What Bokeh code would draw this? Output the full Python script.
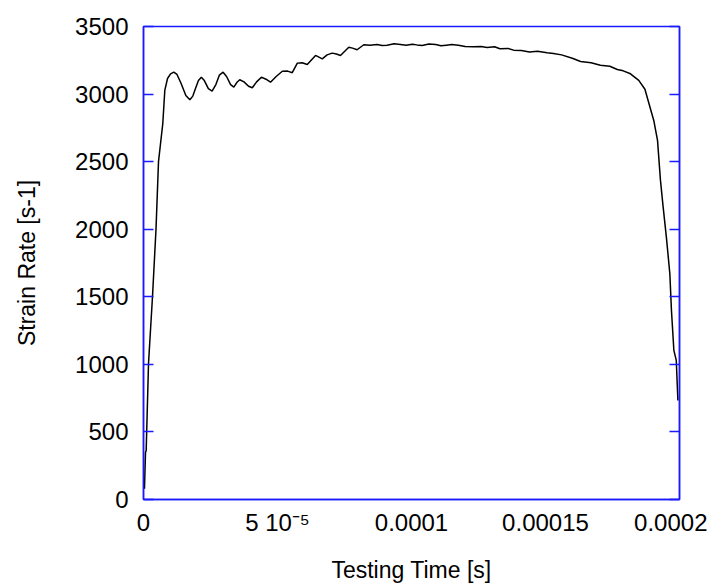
from bokeh.plotting import figure
from bokeh.models import Range1d, FixedTicker, LinearAxis, CustomJSTickFormatter
from bokeh.embed import file_html
from bokeh.resources import INLINE

# Data
time_s = [3.7e-7, 7.5e-7, 1.0e-6, 1.87e-6, 3.36e-6, 4.66e-6, 5.6e-6, 7.2e-6, 7.95e-6,
          8.96e-6, 1.01e-5, 1.13e-5, 1.25e-5, 1.40e-5, 1.58e-5, 1.73e-5, 1.84e-5,
          1.94e-5, 2.05e-5, 2.16e-5, 2.27e-5, 2.42e-5, 2.56e-5, 2.70e-5, 2.83e-5,
          2.97e-5, 3.10e-5, 3.25e-5, 3.37e-5, 3.48e-5, 3.59e-5, 3.75e-5, 3.92e-5,
          4.06e-5, 4.22e-5, 4.40e-5, 4.57e-5, 4.74e-5, 4.95e-5, 5.18e-5, 5.38e-5,
          5.55e-5, 5.74e-5, 5.92e-5, 6.11e-5, 6.42e-5, 6.67e-5, 6.85e-5, 7.04e-5,
          7.2e-5, 7.35e-5, 7.66e-5, 7.80e-5, 7.97e-5, 8.22e-5, 8.45e-5, 8.72e-5,
          8.9e-5, 9.09e-5, 9.35e-5, 9.59e-5, 9.8e-5, 1.003e-4, 1.02e-4, 1.04e-4,
          1.065e-4, 1.09e-4, 1.11e-4, 1.13e-4, 1.15e-4, 1.175e-4, 1.20e-4, 1.23e-4,
          1.26e-4, 1.282e-4, 1.31e-4, 1.33e-4, 1.36e-4, 1.381e-4, 1.41e-4, 1.44e-4,
          1.47e-4, 1.506e-4, 1.53e-4, 1.56e-4, 1.60e-4, 1.631e-4, 1.67e-4, 1.705e-4,
          1.74e-4, 1.768e-4, 1.79e-4, 1.817e-4, 1.848e-4,
          1.871e-4, 1.886e-4, 1.904e-4, 1.918e-4, 1.929e-4, 1.939e-4, 1.951e-4,
          1.964e-4, 1.970e-4, 1.979e-4, 1.988e-4, 1.994e-4]
strain_rate = [80, 348, 363, 1006, 1502, 1998, 2500, 2782, 3027,
               3115, 3150, 3162, 3145, 3080, 2990, 2958, 2985,
               3041, 3100, 3125, 3100, 3040, 3021, 3070, 3140,
               3162, 3130, 3070, 3051, 3085, 3106, 3090, 3058,
               3047, 3090, 3125, 3110, 3088, 3130, 3169, 3170,
               3158, 3229, 3232, 3219, 3286, 3261, 3290, 3303,
               3296, 3286, 3347, 3340, 3328, 3365, 3362, 3367,
               3360, 3362, 3372, 3367, 3361, 3369, 3364, 3360,
               3370, 3366, 3358, 3362, 3366, 3362, 3352, 3350,
               3352, 3345, 3350, 3335, 3338, 3325, 3322, 3312,
               3316, 3306, 3300, 3290, 3265, 3241, 3232, 3214,
               3206, 3182, 3172, 3150, 3101,
               3036, 2930, 2805, 2657, 2361, 2163, 1941,
               1670, 1399, 1103, 1029, 733]

x_ticks = [0, 5e-5, 1e-4, 1.5e-4, 2e-4]
x_tick_labels = ["0", "5 10\u207b\u2075", "0.0001", "0.00015", "0.0002"]
y_ticks = [0, 500, 1000, 1500, 2000, 2500, 3000, 3500]

BLUE = "#1a1aff"
FONT = "Liberation Sans"
TICK_FS = "24px"
LABEL_FS = "23px"

p = figure(frame_width=536, frame_height=473, output_backend="svg", toolbar_location=None,
           x_range=Range1d(0, 0.0002), y_range=Range1d(0, 3500),
           min_border_left=143, min_border_right=28, min_border_top=26, min_border_bottom=20)
p.grid.visible = False
p.background_fill_color = "white"
p.outline_line_color = BLUE
p.outline_line_width = 1.5

p.line(time_s, strain_rate, line_color="black", line_width=1.5)

xa = p.xaxis[0]
xa.ticker = FixedTicker(ticks=x_ticks)
xa.major_label_overrides = {t: l for t, l in zip(x_ticks, x_tick_labels)}
xa.axis_label = "Testing Time [s]"
xa.major_tick_in = 0
xa.major_tick_out = 0
xa.minor_tick_in = 0
xa.minor_tick_out = 0
xa.major_label_standoff = 9

ya = p.yaxis[0]
ya.ticker = FixedTicker(ticks=y_ticks)
ya.axis_label = "Strain Rate [s-1]"
ya.major_tick_in = 10
ya.major_tick_out = 0
ya.minor_tick_in = 0
ya.minor_tick_out = 0
ya.major_label_standoff = 15

ra = LinearAxis(ticker=FixedTicker(ticks=y_ticks),
                formatter=CustomJSTickFormatter(code="return ''"))
ra.major_tick_in = 10
ra.major_tick_out = 0
ra.minor_tick_in = 0
ra.minor_tick_out = 0
ra.major_label_standoff = 0
ra.axis_line_color = BLUE
ra.axis_line_width = 1.5
ra.major_tick_line_color = BLUE
ra.major_tick_line_width = 1.5
p.add_layout(ra, "right")

for ax in (xa, ya):
    ax.axis_line_color = BLUE
    ax.axis_line_width = 1.5
    ax.major_tick_line_color = BLUE
    ax.major_tick_line_width = 1.5
    ax.major_label_text_font = FONT
    ax.major_label_text_font_size = TICK_FS
    ax.major_label_text_color = "black"
    ax.axis_label_text_font = FONT
    ax.axis_label_text_font_size = LABEL_FS
    ax.axis_label_text_font_style = "normal"
    ax.axis_label_text_color = "black"

xa.axis_label_standoff = 18
ya.axis_label_standoff = 32

open("out.html", "w").write(file_html(p, INLINE))
